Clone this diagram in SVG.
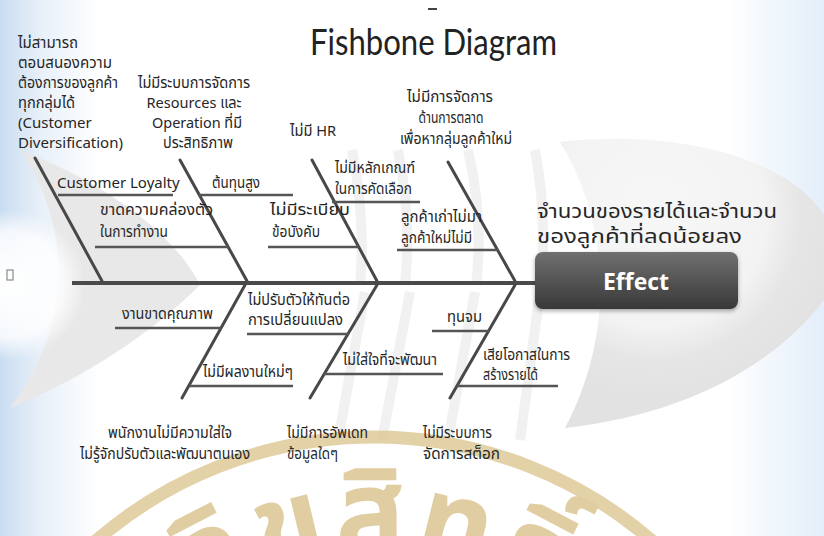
<svg xmlns="http://www.w3.org/2000/svg" width="824" height="536" viewBox="0 0 824 536">
<defs>
<linearGradient id="bgH" x1="0" y1="0" x2="824" y2="0" gradientUnits="userSpaceOnUse">
<stop offset="0" stop-color="#c9ddf1"/>
<stop offset="0.05" stop-color="#e8f0f9"/>
<stop offset="0.12" stop-color="#ffffff"/>
<stop offset="0.88" stop-color="#ffffff"/>
<stop offset="1" stop-color="#e3eefa"/>
</linearGradient>
<radialGradient id="headG" cx="655" cy="215" r="185" gradientUnits="userSpaceOnUse">
<stop offset="0" stop-color="#f7f7f7"/>
<stop offset="0.6" stop-color="#f3f3f3"/>
<stop offset="0.78" stop-color="#e6e6e6"/>
<stop offset="1" stop-color="#e2e2e2"/>
</radialGradient>
<radialGradient id="glow" cx="10" cy="285" r="75" gradientUnits="userSpaceOnUse">
<stop offset="0" stop-color="#ffffff"/>
<stop offset="0.7" stop-color="#ffffff" stop-opacity="0.8"/>
<stop offset="1" stop-color="#ffffff" stop-opacity="0"/>
</radialGradient>
<linearGradient id="boxG" x1="0" y1="0" x2="0" y2="1">
<stop offset="0" stop-color="#707070"/>
<stop offset="1" stop-color="#383838"/>
</linearGradient>
<filter id="shadow" x="-10%" y="-20%" width="120%" height="150%">
<feDropShadow dx="0" dy="2" stdDeviation="2" flood-color="#000" flood-opacity="0.35"/>
</filter>
<path id="wmPath" d="M58,868 A316,316 0 0 1 690,868"/>
<style>
.t{font-family:"Noto Sans Thai","Liberation Sans","DejaVu Sans","Noto Sans",sans-serif;font-size:15px;fill:#262626}
.m{text-anchor:middle}
.bone{stroke:#484848;stroke-width:3;stroke-linecap:round;fill:none}
.rib{stroke:#555;stroke-width:2.5;fill:none}
.fade{stroke:#e4e4e4;stroke-width:10;fill:none;opacity:0.5}
</style>
</defs>

<g id="background">
<rect x="0" y="0" width="824" height="536" fill="url(#bgH)"/>
<path d="M20,150 C110,185 175,235 200,285 C150,335 80,380 10,408 C70,330 75,230 20,150 Z" fill="#e8e8e8"/>
<circle cx="10" cy="285" r="75" fill="url(#glow)"/>
<path d="M560,142 C680,128 790,160 824,215 L824,300 C770,370 680,415 565,428 C612,340 614,230 560,142 Z" fill="url(#headG)"/>
<path class="fade" d="M352,150 Q366,220 360,285"/>
<path class="fade" d="M398,150 Q412,220 405,285"/>
<path class="fade" d="M468,150 Q484,220 476,285"/>
<path class="fade" d="M535,150 Q548,220 540,285"/>
<path class="fade" d="M365,292 L338,440"/>
<path class="fade" d="M410,292 L382,440"/>
<path class="fade" d="M475,292 L448,440"/>
<path class="fade" d="M540,292 L520,440"/>
<rect x="7" y="270" width="6" height="10" fill="none" stroke="#8a8a8a" stroke-width="1.2"/>
<line x1="428" y1="9" x2="437" y2="9" stroke="#444" stroke-width="2"/>
</g>

<g id="watermark" opacity="0.85">
<circle cx="374" cy="861" r="424" fill="none" stroke="#dfca98" stroke-width="13"/>
<text font-family="'Noto Sans Thai','Liberation Sans','DejaVu Sans',sans-serif" font-size="115" font-weight="bold" fill="#dcc592" text-anchor="middle" letter-spacing="6"><textPath href="#wmPath" startOffset="50%">ลิขสิทธิ์</textPath></text>
</g>

<g id="title">
<text x="310" y="55" font-family="Lato,'Open Sans',sans-serif" font-weight="400" font-size="36" fill="#222" textLength="247" lengthAdjust="spacingAndGlyphs">Fishbone Diagram</text>
</g>

<g id="connectors">
<line x1="72" y1="283" x2="537" y2="283" stroke="#4a4a4a" stroke-width="4"/>
<line class="bone" x1="35" y1="158" x2="102" y2="281"/>
<line class="bone" x1="180" y1="160" x2="247" y2="281"/>
<line class="bone" x1="312" y1="160" x2="377" y2="281"/>
<line class="bone" x1="448" y1="162" x2="515" y2="281"/>
<line class="bone" x1="245" y1="285" x2="182" y2="398"/>
<line class="bone" x1="377" y1="285" x2="310" y2="398"/>
<line class="bone" x1="515" y1="285" x2="450" y2="398"/>
<line class="rib" x1="58" y1="195" x2="173" y2="195"/>
<line class="rib" x1="199" y1="195" x2="293" y2="195"/>
<line class="rib" x1="95" y1="247" x2="228" y2="247"/>
<line class="rib" x1="268" y1="247" x2="359" y2="247"/>
<line class="rib" x1="332" y1="202" x2="420" y2="202"/>
<line class="rib" x1="397" y1="250" x2="498" y2="250"/>
<line class="rib" x1="115" y1="328" x2="221" y2="328"/>
<line class="rib" x1="247" y1="334" x2="349" y2="334"/>
<line class="rib" x1="189" y1="386" x2="293" y2="386"/>
<line class="rib" x1="324" y1="374" x2="443" y2="374"/>
<line class="rib" x1="432" y1="331" x2="489" y2="331"/>
<line class="rib" x1="457" y1="386" x2="558" y2="386"/>
</g>

<g id="cause-customer-diversification">
<text class="t" x="18" y="48" textLength="60" lengthAdjust="spacingAndGlyphs">ไม่สามารถ</text>
<text class="t" x="18" y="68" textLength="94" lengthAdjust="spacingAndGlyphs">ตอบสนองความ</text>
<text class="t" x="18" y="88" textLength="100" lengthAdjust="spacingAndGlyphs">ต้องการของลูกค้า</text>
<text class="t" x="18" y="108" textLength="57" lengthAdjust="spacingAndGlyphs">ทุกกลุ่มได้</text>
<text class="t" x="18" y="128">(Customer</text>
<text class="t" x="18" y="148">Diversification)</text>
</g>
<g id="cause-resources">
<text class="t m" x="194" y="88" textLength="112" lengthAdjust="spacingAndGlyphs">ไม่มีระบบการจัดการ</text>
<text class="t m" x="194" y="108" textLength="95" lengthAdjust="spacingAndGlyphs">Resources และ</text>
<text class="t m" x="197" y="128" textLength="90" lengthAdjust="spacingAndGlyphs">Operation ที่มี</text>
<text class="t m" x="198" y="148" textLength="70" lengthAdjust="spacingAndGlyphs">ประสิทธิภาพ</text>
</g>
<g id="cause-hr">
<text class="t" x="290" y="136" textLength="46" lengthAdjust="spacingAndGlyphs">ไม่มี HR</text>
</g>
<g id="cause-marketing">
<text class="t m" x="450" y="102" textLength="86" lengthAdjust="spacingAndGlyphs">ไม่มีการจัดการ</text>
<text class="t m" x="451" y="123" textLength="65" lengthAdjust="spacingAndGlyphs">ด้านการตลาด</text>
<text class="t m" x="456" y="144" textLength="112" lengthAdjust="spacingAndGlyphs">เพื่อหากลุ่มลูกค้าใหม่</text>
</g>
<g id="sub-customer-loyalty"><text class="t" x="57" y="188">Customer Loyalty</text></g>
<g id="sub-high-cost"><text class="t" x="212" y="188" textLength="48" lengthAdjust="spacingAndGlyphs">ต้นทุนสูง</text></g>
<g id="sub-flexibility">
<text class="t" x="100" y="215" textLength="113" lengthAdjust="spacingAndGlyphs">ขาดความคล่องตัว</text>
<text class="t" x="100" y="237" textLength="68" lengthAdjust="spacingAndGlyphs">ในการทำงาน</text>
</g>
<g id="sub-rules">
<text class="t" x="270" y="215" textLength="80" lengthAdjust="spacingAndGlyphs">ไม่มีระเบียบ</text>
<text class="t" x="272" y="237" textLength="48" lengthAdjust="spacingAndGlyphs">ข้อบังคับ</text>
</g>
<g id="sub-criteria">
<text class="t" x="335" y="173" textLength="80" lengthAdjust="spacingAndGlyphs">ไม่มีหลักเกณฑ์</text>
<text class="t" x="335" y="194" textLength="77" lengthAdjust="spacingAndGlyphs">ในการคัดเลือก</text>
</g>
<g id="sub-customers">
<text class="t" x="401" y="222" textLength="81" lengthAdjust="spacingAndGlyphs">ลูกค้าเก่าไม่มา</text>
<text class="t" x="401" y="243" textLength="71" lengthAdjust="spacingAndGlyphs">ลูกค้าใหม่ไม่มี</text>
</g>
<g id="sub-quality"><text class="t" x="122" y="319" textLength="91" lengthAdjust="spacingAndGlyphs">งานขาดคุณภาพ</text></g>
<g id="sub-adapt">
<text class="t" x="248" y="305" textLength="102" lengthAdjust="spacingAndGlyphs">ไม่ปรับตัวให้ทันต่อ</text>
<text class="t" x="248" y="325" textLength="95" lengthAdjust="spacingAndGlyphs">การเปลี่ยนแปลง</text>
</g>
<g id="sub-new-work"><text class="t" x="203" y="377" textLength="90" lengthAdjust="spacingAndGlyphs">ไม่มีผลงานใหม่ๆ</text></g>
<g id="sub-develop"><text class="t" x="343" y="365" textLength="94" lengthAdjust="spacingAndGlyphs">ไม่ใส่ใจที่จะพัฒนา</text></g>
<g id="sub-sunk"><text class="t" x="447" y="322" textLength="35" lengthAdjust="spacingAndGlyphs">ทุนจม</text></g>
<g id="sub-opportunity">
<text class="t" x="483" y="360" textLength="87" lengthAdjust="spacingAndGlyphs">เสียโอกาสในการ</text>
<text class="t" x="483" y="380" textLength="55" lengthAdjust="spacingAndGlyphs">สร้างรายได้</text>
</g>
<g id="cause-staff">
<text class="t m" x="170" y="438" textLength="124" lengthAdjust="spacingAndGlyphs">พนักงานไม่มีความใส่ใจ</text>
<text class="t m" x="165" y="459" textLength="170" lengthAdjust="spacingAndGlyphs">ไม่รู้จักปรับตัวและพัฒนาตนเอง</text>
</g>
<g id="cause-update">
<text class="t" x="287" y="438" textLength="81" lengthAdjust="spacingAndGlyphs">ไม่มีการอัพเดท</text>
<text class="t" x="287" y="459" textLength="51" lengthAdjust="spacingAndGlyphs">ข้อมูลใดๆ</text>
</g>
<g id="cause-stock">
<text class="t" x="423" y="438" textLength="69" lengthAdjust="spacingAndGlyphs">ไม่มีระบบการ</text>
<text class="t" x="423" y="459" textLength="77" lengthAdjust="spacingAndGlyphs">จัดการสต็อก</text>
</g>

<g id="effect">
<text class="t" x="537" y="218" style="font-size:20px" textLength="240" lengthAdjust="spacingAndGlyphs">จำนวนของรายได้และจำนวน</text>
<text class="t" x="537" y="243" style="font-size:20px" textLength="205" lengthAdjust="spacingAndGlyphs">ของลูกค้าที่ลดน้อยลง</text>
<rect x="535" y="252" width="203" height="57" rx="8" fill="url(#boxG)" filter="url(#shadow)"/>
<text x="636" y="290" text-anchor="middle" font-family="'Open Sans','Liberation Sans',sans-serif" font-weight="bold" font-size="23" fill="#ffffff">Effect</text>
</g>
</svg>
